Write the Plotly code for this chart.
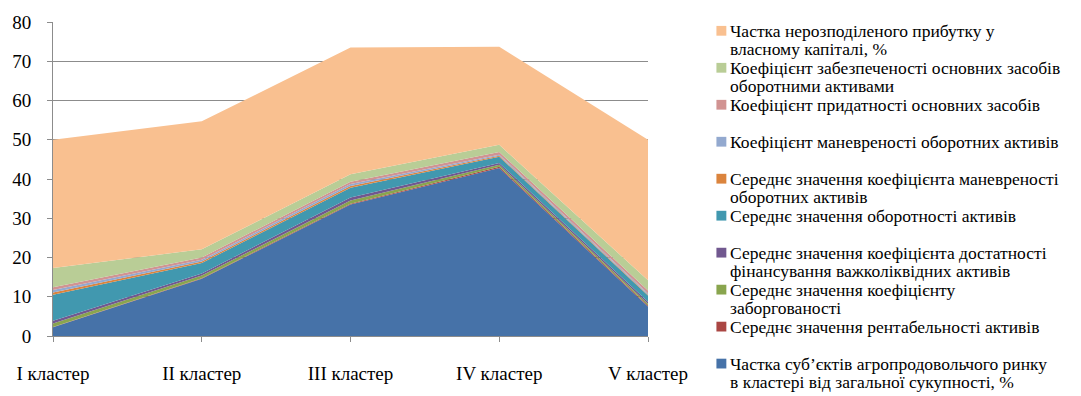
import plotly.graph_objects as go

# Clusters along the horizontal axis
clusters = ["I кластер", "II кластер", "III кластер", "IV кластер", "V кластер"]

# Stacked series, bottom to top (legend lists them top to bottom)
share_subjects = [2.2, 14.6, 33.5, 42.8, 7.5]
return_on_assets = [0.1, 0.1, 0.2, 0.3, 0.3]
debt_ratio = [0.9, 0.7, 0.8, 0.5, 0.4]
illiquid_financing = [0.7, 0.5, 0.8, 0.5, 0.5]
asset_turnover = [6.6, 2.7, 2.5, 1.6, 1.6]
avg_current_maneuver = [0.6, 0.4, 0.4, 0.2, 0.2]
current_maneuver = [0.6, 0.4, 0.5, 0.3, 0.3]
fixed_fitness = [0.7, 0.6, 0.6, 0.7, 0.8]
fixed_coverage = [4.9, 2.1, 1.9, 1.8, 2.6]
retained_share = [32.7, 32.6, 32.3, 25.0, 35.8]

series_values = [
    share_subjects, return_on_assets, debt_ratio, illiquid_financing,
    asset_turnover, avg_current_maneuver, current_maneuver,
    fixed_fitness, fixed_coverage, retained_share,
]

series_names = [
    "Частка суб’єктів агропродовольчого ринку\nв кластері від загальної сукупності, %",
    "Середнє значення рентабельності активів",
    "Середнє значення коефіцієнту\nзаборгованості",
    "Середнє значення коефіцієнта достатності\nфінансування важколіквідних активів",
    "Середнє значення оборотності активів",
    "Середнє значення коефіцієнта маневреності\nоборотних активів",
    "Коефіцієнт маневреності оборотних активів",
    "Коефіцієнт придатності основних засобів",
    "Коефіцієнт забезпеченості основних засобів\nоборотними активами",
    "Частка нерозподіленого прибутку у\nвласному капіталі, %",
]

series_colors = [
    "#4672A8", "#AA4643", "#89A54E", "#71588F", "#4198AF",
    "#DB843D", "#93A9CF", "#D19392", "#B9CD96", "#F9C090",
]

FONT = "Liberation Serif"
W, H = 1081, 396
L, R, T, B = 48, 433, 20, 55
PW, PH = W - L - R, H - T - B

fig = go.Figure()
for name, vals, col in zip(series_names, series_values, series_colors):
    fig.add_trace(go.Scatter(
        x=clusters, y=vals, name=name.replace("\n", " "),
        mode="lines", stackgroup="one",
        line=dict(width=0, color=col), fillcolor=col,
        showlegend=False, hoverinfo="name+y",
    ))


def px_x(px):
    return (px - L) / PW


def px_y(py):
    return (H - B - py) / PH


# Legend drawn at the right: last series at the top
shapes, annotations = [], []
item_step, line_step = 37.8, 19.0
for i, k in enumerate(range(len(series_names) - 1, -1, -1)):
    yc = 29 + i * item_step
    shapes.append(dict(
        type="rect", xref="paper", yref="paper",
        x0=px_x(717), x1=px_x(727), y0=px_y(yc - 5), y1=px_y(yc + 5),
        fillcolor=series_colors[k], line=dict(width=0),
    ))
    for j, line in enumerate(series_names[k].split("\n")):
        annotations.append(dict(
            xref="paper", yref="paper", x=px_x(729), y=px_y(yc + j * line_step),
            xanchor="left", yanchor="middle", showarrow=False, text=line,
            font=dict(family=FONT, size=17.5, color="#000000"),
        ))

fig.update_layout(
    width=W, height=H,
    margin=dict(l=L, r=R, t=T, b=B),
    paper_bgcolor="white", plot_bgcolor="white",
    font=dict(family=FONT, color="#000000"),
    shapes=shapes, annotations=annotations,
    showlegend=False,
)
fig.update_xaxes(
    type="category", range=[0, len(clusters) - 1],
    showline=True, linecolor="#8C8C8C", linewidth=1,
    ticks="outside", ticklen=5, tickcolor="#8C8C8C",
    showgrid=False, zeroline=False,
    tickfont=dict(family=FONT, size=19, color="#000000"),
    ticklabelstandoff=15,
)
fig.update_yaxes(
    range=[0, 80], dtick=10,
    showline=True, linecolor="#8C8C8C", linewidth=1,
    ticks="outside", ticklen=5, tickcolor="#8C8C8C",
    showgrid=True, gridcolor="#8C8C8C", gridwidth=1, zeroline=False,
    tickfont=dict(family=FONT, size=19, color="#000000"),
    ticklabelstandoff=12,
)

fig.write_html("out.html")
